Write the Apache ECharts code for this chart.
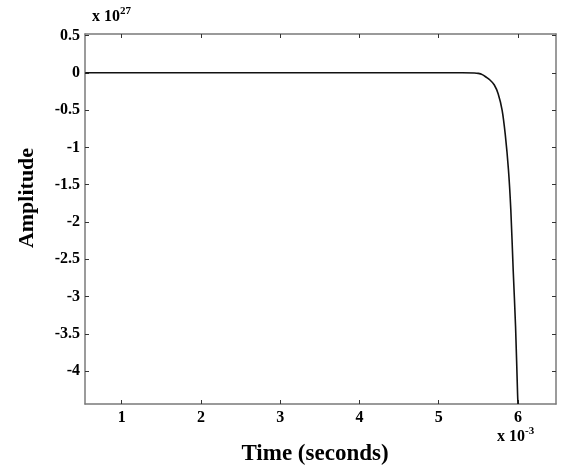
<!DOCTYPE html>
<html><head><meta charset="utf-8">
<script src="https://cdn.jsdelivr.net/npm/echarts@6/dist/echarts.min.js"></script>
<style>html,body{margin:0;padding:0;background:#fff}#c{width:563px;height:467px}</style>
</head><body><div id="c"></div>
<script>
// Data (x in units of 1e-3 s, amplitude in units of 1e27)
const timeVals = [0.54, 1, 2, 3, 4, 5, 5.3, 5.45, 5.5, 5.55, 5.6, 5.65, 5.7, 5.75, 5.8, 5.84, 5.88, 5.91, 5.94, 5.97, 5.995, 6.0];
const ampVals  = [0, 0, 0, 0, 0, 0, 0, -0.002, -0.008, -0.025, -0.06, -0.1, -0.16, -0.28, -0.5, -0.83, -1.3, -1.84, -2.65, -3.41, -4.3, -4.44];
const xTicks = [1, 2, 3, 4, 5, 6];
const yTicks = [0.5, 0, -0.5, -1, -1.5, -2, -2.5, -3, -3.5, -4];
const xLabel = 'Time (seconds)';
const yLabel = 'Amplitude';

const FONT = '"Liberation Serif", "Times New Roman", serif';
const AXC = '#7a7a7a';
const xMin = 0.537, xMax = 6.48, yMin = -4.44, yMax = 0.52;

const chart = echarts.init(document.getElementById('c'), null, {renderer: 'canvas'});
const baseX = {
  type: 'value', min: xMin, max: xMax,
  axisLine: {show: true, onZero: false, lineStyle: {color: AXC, width: 1.5}},
  axisTick: {show: true, inside: true, length: 4, customValues: xTicks, lineStyle: {color: '#333', width: 1}},
  splitLine: {show: false}
};
const baseY = {
  type: 'value', min: yMin, max: yMax,
  axisLine: {show: true, onZero: false, lineStyle: {color: AXC, width: 1.5}},
  axisTick: {show: true, inside: true, length: 4, customValues: yTicks, lineStyle: {color: '#333', width: 1}},
  splitLine: {show: false}
};
chart.setOption({
  animation: false,
  backgroundColor: '#fff',
  grid: {left: 85, right: 7, top: 34, bottom: 63},
  xAxis: [
    Object.assign({}, baseX, {position: 'bottom',
      axisLabel: {show: true, customValues: xTicks, margin: 6, color: '#000', fontFamily: FONT, fontWeight: 'bold', fontSize: 16,
        formatter: v => String(Math.round(v))}}),
    Object.assign({}, baseX, {position: 'top', axisLabel: {show: false}})
  ],
  yAxis: [
    Object.assign({}, baseY, {position: 'left',
      axisLabel: {show: true, customValues: yTicks, margin: 5, color: '#000', fontFamily: FONT, fontWeight: 'bold', fontSize: 16,
        formatter: v => String(Math.round(v * 10) / 10)}}),
    Object.assign({}, baseY, {position: 'right', axisLabel: {show: false}})
  ],
  series: [{
    type: 'line', xAxisIndex: 0, yAxisIndex: 0,
    data: timeVals.map((t, i) => [t, ampVals[i]]),
    showSymbol: false, smooth: 0.3,
    lineStyle: {color: '#111', width: 1.6},
    clip: true
  }],
  graphic: [
    {type: 'text', left: 92, top: 6, style: {
      text: '{b|x 10}{s|27}', rich: {
        b: {fontFamily: FONT, fontWeight: 'bold', fontSize: 16, fill: '#000', verticalAlign: 'bottom'},
        s: {fontFamily: FONT, fontWeight: 'bold', fontSize: 11, fill: '#000', verticalAlign: 'top', padding: [0, 0, 8, 0]}
      }}},
    {type: 'text', left: 497, top: 426, style: {
      text: '{b|x 10}{s|-3}', rich: {
        b: {fontFamily: FONT, fontWeight: 'bold', fontSize: 16, fill: '#000', verticalAlign: 'bottom'},
        s: {fontFamily: FONT, fontWeight: 'bold', fontSize: 11, fill: '#000', verticalAlign: 'top', padding: [0, 0, 8, 0]}
      }}},
    {type: 'text', x: 315, y: 454, style: {text: xLabel, fontFamily: FONT, fontWeight: 'bold', fontSize: 23, fill: '#000', align: 'center', verticalAlign: 'middle'}},
    {type: 'text', x: 27, y: 198, rotation: Math.PI / 2, style: {text: yLabel, fontFamily: FONT, fontWeight: 'bold', fontSize: 22, fill: '#000', align: 'center', verticalAlign: 'middle'}}
  ]
});
</script></body></html>
